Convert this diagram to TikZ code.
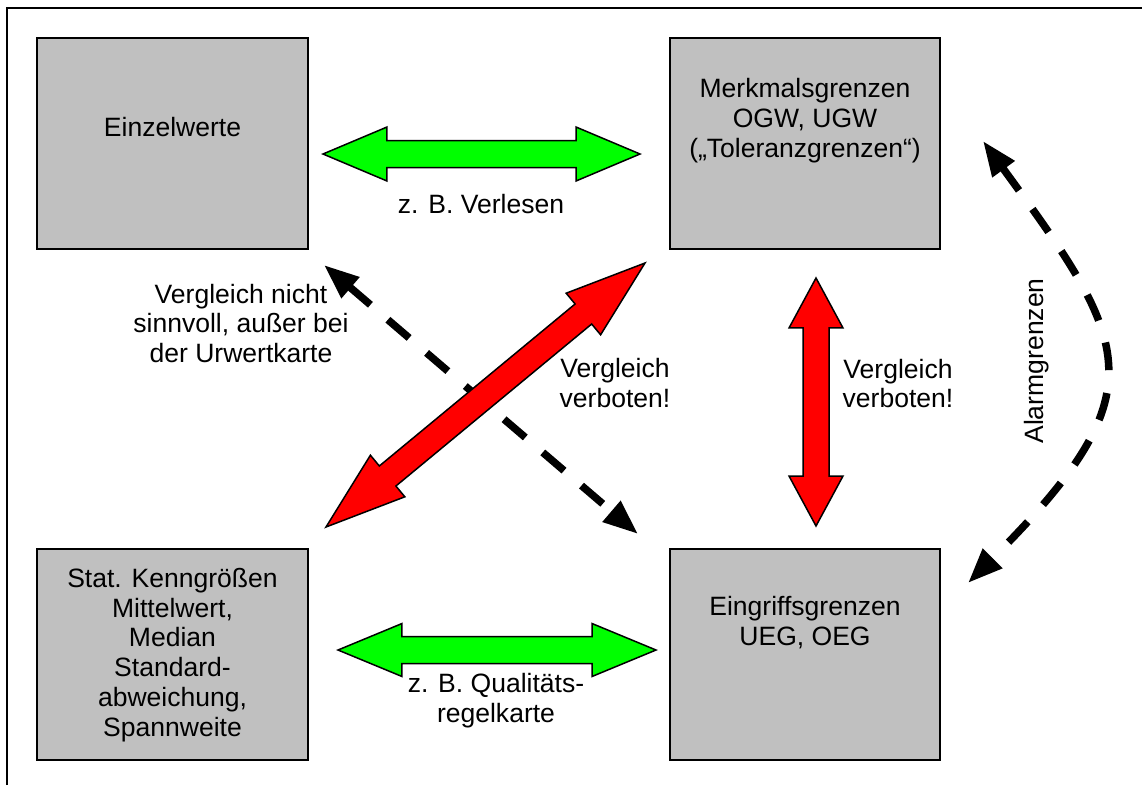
\documentclass[tikz,border=0pt]{standalone}
\usepackage{fontspec}
\setmainfont{Liberation Sans}
\usetikzlibrary{calc,arrows.meta}
\definecolor{boxgray}{HTML}{C0C0C0}
\definecolor{arrowgreen}{HTML}{00FF00}
\definecolor{arrowred}{HTML}{FF0000}
% block arrow: #1 tail, #2 head, #3 head length, #4 head half-width, #5 shaft half-width, #6 fill
\newcommand\BlkArr[6]{%
  \draw[blk, fill=#6] (#1)
    -- ($(#1)!#3!(#2)!#4!90:(#2)$)
    -- ($(#1)!#3!(#2)!#5!90:(#2)$)
    -- ($(#2)!#3!(#1)!#5!270:(#1)$)
    -- ($(#2)!#3!(#1)!#4!270:(#1)$)
    -- (#2)
    -- ($(#2)!#3!(#1)!#4!90:(#1)$)
    -- ($(#2)!#3!(#1)!#5!90:(#1)$)
    -- ($(#1)!#3!(#2)!#5!270:(#2)$)
    -- ($(#1)!#3!(#2)!#4!270:(#2)$)
    -- cycle;}
\begin{document}
\begin{tikzpicture}[x=0.02cm,y=-0.02cm,
  box/.style={draw=black, line width=0.04cm, fill=boxgray, minimum width=5.42cm, minimum height=4.22cm, inner sep=0pt},
  txt/.style={font=\fontsize{15.1pt}{17pt}\selectfont, align=center, inner sep=0pt},
  blk/.style={draw=black, line width=0.03cm, line join=miter},
  dashedarrow/.style={line width=0.15cm, dash pattern=on 0.56cm off 0.46cm,
    {Triangle[length=0.7cm,width=0.52cm]}-{Triangle[length=0.7cm,width=0.52cm]}},
  frameline/.style={line width=0.03cm}]
\useasboundingbox (0,0) rectangle (1142,785);
\draw[frameline] (7,785) -- (7,8) -- (1142,8);

% boxes
\node[box] (einzel) at (172.5,143.5) {};
\node[box] (merkmal) at (805,143.5) {};
\node[box] (stat) at (172.5,654.5) {};
\node[box] (eingriff) at (805,654.5) {};

% box texts
\node[txt, anchor=base] (teinzel) at (172.5,136) {Einzelwerte};
\node[txt] (tmerkmal) at (805,121) {Merkmalsgrenzen\\OGW, UGW\\(„Toleranzgrenzen“)};
\node[txt] (tstat) at (172.5,655) {Stat. Kenngrößen\\Mittelwert,\\Median\\Standard-\\abweichung,\\Spannweite};
\node[txt] (teingriff) at (805,623) {Eingriffsgrenzen\\UEG, OEG};

% connector ends
\coordinate (g1a) at (323,154);
\coordinate (g1b) at (640,154);
\coordinate (g2a) at (338,650);
\coordinate (g2b) at (656,650);
\coordinate (r1a) at (816,278);
\coordinate (r1b) at (816,526);
\coordinate (r2a) at (326,527);
\coordinate (r2b) at (645,263);
\coordinate (d1a) at (324,265);
\coordinate (d1b) at (638,534);
\coordinate (c1a) at (983,141);
\coordinate (c1b) at (968,583);

% dashed arrows
\draw[dashedarrow] (d1a) -- (d1b);
\draw[dashedarrow] (c1a) .. controls (1132,345) and (1160,391) .. (c1b);

% block arrows
\BlkArr{g1a}{g1b}{1.28cm}{0.54cm}{0.27cm}{arrowgreen}
\BlkArr{g2a}{g2b}{1.28cm}{0.53cm}{0.27cm}{arrowgreen}
\BlkArr{r1a}{r1b}{1.0cm}{0.54cm}{0.26cm}{arrowred}
\BlkArr{r2a}{r2b}{1.6cm}{0.54cm}{0.26cm}{arrowred}

% labels
\node[txt, anchor=base] (lverlesen) at (481,213) {z. B. Verlesen};
\node[txt] (lqrk) at (496,701) {z. B. Qualitäts-\\regelkarte};
\node[txt] (lnicht) at (241,323.5) {Vergleich nicht\\sinnvoll, außer bei\\der Urwertkarte};
\node[txt] (lverb1) at (615,383) {Vergleich\\verboten!};
\node[txt] (lverb2) at (898,383.5) {Vergleich\\verboten!};
\node[txt, rotate=90] (lalarm) at (1037,361) {Alarmgrenzen};
\end{tikzpicture}
\end{document}
